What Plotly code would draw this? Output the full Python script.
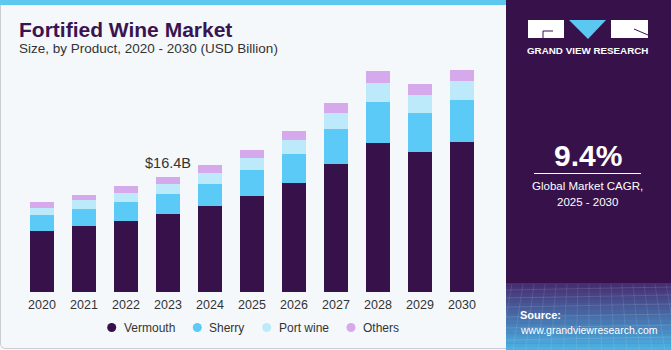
import plotly.graph_objects as go

years = [2020, 2021, 2022, 2023, 2024, 2025, 2026, 2027, 2028, 2029, 2030]
vermouth = [8.71, 9.39, 10.14, 11.14, 12.29, 13.71, 15.53, 18.24, 21.29, 20.00, 21.43]
sherry = [2.29, 2.43, 2.71, 2.90, 3.19, 3.67, 4.19, 5.04, 5.86, 5.57, 6.00]
port_wine = [1.04, 1.29, 1.29, 1.39, 1.57, 1.71, 2.00, 2.29, 2.76, 2.57, 2.76]
others = [0.81, 0.76, 0.96, 0.96, 1.06, 1.19, 1.29, 1.43, 1.67, 1.57, 1.57]
series_names = ["Vermouth", "Sherry", "Port wine", "Others"]
series_colors = ["#37114A", "#5BCAF6", "#BDEAFA", "#D5A9EC"]
callout_year = 2023
callout_text = "$16.4B"
cagr_text = "9.4%"

W, H = 671, 350
L, R, T, B = 21, 188, 68, 58
PW, PH = W - L - R, H - T - B


def px(x):
    return (x - L) / PW


def py(y):
    return (H - B - y) / PH


fig = go.Figure()
for name, vals, col in zip(series_names, [vermouth, sherry, port_wine, others], series_colors):
    fig.add_trace(go.Bar(x=years, y=vals, name=name, marker=dict(color=col, line=dict(width=0)),
                         showlegend=False, hoverinfo="skip"))

totals = [a + b + c + d for a, b, c, d in zip(vermouth, sherry, port_wine, others)]
ci = years.index(callout_year)

shapes = []
annotations = []

# left panel border
shapes.append(dict(type="path", xref="paper", yref="paper", layer="below",
                   path=f"M {px(0.5)} {py(5)} L {px(0.5)} {py(343)} Q {px(0.5)} {py(348.5)} {px(6)} {py(348.5)} L {px(506)} {py(348.5)}",
                   line=dict(color="#C9CED3", width=1)))
# top strip
shapes.append(dict(type="rect", xref="paper", yref="paper", layer="below",
                   x0=px(0), x1=px(506), y0=py(0), y1=py(5), fillcolor="#5CC7EF", line=dict(width=0)))
# right panel
shapes.append(dict(type="rect", xref="paper", yref="paper", layer="below",
                   x0=px(506), x1=px(671), y0=py(0), y1=py(350), fillcolor="#37124A", line=dict(width=0)))
# gradient bottom
n = 20
y0g, y1g = 283, 350
c0 = (0x45, 0x2E, 0x72)
c1 = (0x4C, 0xB0, 0xE2)
for i in range(n):
    t = i / (n - 1)
    c = tuple(int(c0[k] + (c1[k] - c0[k]) * t) for k in range(3))
    ya = y0g + (y1g - y0g) * i / n
    yb = y0g + (y1g - y0g) * (i + 1) / n
    shapes.append(dict(type="rect", xref="paper", yref="paper", layer="below",
                       x0=px(506), x1=px(671), y0=py(ya), y1=py(yb + 0.5),
                       fillcolor="rgb(%d,%d,%d)" % c, line=dict(width=0)))
# faint grid lines in gradient
for yy in [290, 298, 307, 317, 328, 340]:
    shapes.append(dict(type="line", xref="paper", yref="paper", layer="below",
                       x0=px(506), x1=px(671), y0=py(yy), y1=py(yy - 3),
                       line=dict(color="rgba(255,255,255,0.12)", width=1)))
for xx in range(512, 671, 11):
    shapes.append(dict(type="line", xref="paper", yref="paper", layer="below",
                       x0=px(xx), x1=px(xx + (xx - 590) * 0.15), y0=py(284), y1=py(350),
                       line=dict(color="rgba(255,255,255,0.10)", width=1)))

# logo
shapes.append(dict(type="rect", xref="paper", yref="paper", x0=px(528), x1=px(564), y0=py(20), y1=py(38),
                   fillcolor="white", line=dict(width=0)))
shapes.append(dict(type="path", xref="paper", yref="paper",
                   path=f"M {px(553)} {py(31)} L {px(543)} {py(31)} L {px(543)} {py(38)}",
                   line=dict(color="#37124A", width=1)))
shapes.append(dict(type="path", xref="paper", yref="paper",
                   path=f"M {px(569)} {py(20)} L {px(606)} {py(20)} L {px(588)} {py(39)} Z",
                   fillcolor="#5BC8F2", line=dict(width=0)))
shapes.append(dict(type="rect", xref="paper", yref="paper", x0=px(611), x1=px(648), y0=py(20), y1=py(38),
                   fillcolor="white", line=dict(width=0)))
shapes.append(dict(type="line", xref="paper", yref="paper", x0=px(634), x1=px(648), y0=py(29), y1=py(35),
                   line=dict(color="#37124A", width=1)))
# cagr underline
shapes.append(dict(type="line", xref="paper", yref="paper", x0=px(534), x1=px(641), y0=py(173.5), y1=py(173.5),
                   line=dict(color="white", width=1)))


def text(x, y, s, size, color, bold=False, xanchor="left", family="Liberation Sans"):
    annotations.append(dict(xref="paper", yref="paper", x=px(x), y=py(y), text=f"<b>{s}</b>" if bold else s,
                            showarrow=False, xanchor=xanchor, yanchor="middle",
                            font=dict(size=size, color=color, family=family)))


text(17, 29, "Fortified Wine Market", 21, "#3A1450", bold=True)
text(17, 49, "Size, by Product, 2020 - 2030 (USD Billion)", 13.5, "#333333")
text(587.5, 51, "GRAND VIEW RESEARCH", 9.8, "white", bold=True, xanchor="center")
text(587.5, 155, cagr_text, 30, "white", bold=True, xanchor="center")
text(587.5, 185.5, "Global Market CAGR,", 11.5, "white", xanchor="center")
text(587.5, 201.5, "2025 - 2030", 11.5, "white", xanchor="center")
text(518, 315, "Source:", 11, "white", bold=True)
text(518, 330, "www.grandviewresearch.com", 10.5, "white")

# legend
leg_x = [111.7, 197.3, 266.7, 351]
for lx, name, col in zip(leg_x, series_names, series_colors):
    r = 4.5
    shapes.append(dict(type="circle", xref="paper", yref="paper", x0=px(lx - r), x1=px(lx + r),
                       y0=py(327.5 - r), y1=py(327.5 + r), fillcolor=col, line=dict(width=0)))
    text(lx + 10, 327.5, name, 12, "#333333")

# callout
annotations.append(dict(x=years[ci], y=totals[ci], xref="x", yref="y", text=callout_text, showarrow=False,
                        yanchor="bottom", yshift=4, font=dict(size=14.5, color="#333333", family="Liberation Sans")))

fig.update_layout(
    width=W, height=H, margin=dict(l=L, r=R, t=T, b=B),
    paper_bgcolor="#F4F8FB", plot_bgcolor="rgba(0,0,0,0)",
    barmode="stack", bargap=0.45, showlegend=False,
    shapes=shapes, annotations=annotations,
    xaxis=dict(range=[2019.5, 2030.5], tickmode="array", tickvals=years, ticktext=[str(y) for y in years],
               showgrid=False, zeroline=False, showline=False, ticks="", ticklabelstandoff=3,
               tickfont=dict(size=12.5, color="#333333", family="Liberation Sans")),
    yaxis=dict(range=[0, 32], visible=False, showgrid=False, zeroline=False),
)
fig.write_html("out.html")
